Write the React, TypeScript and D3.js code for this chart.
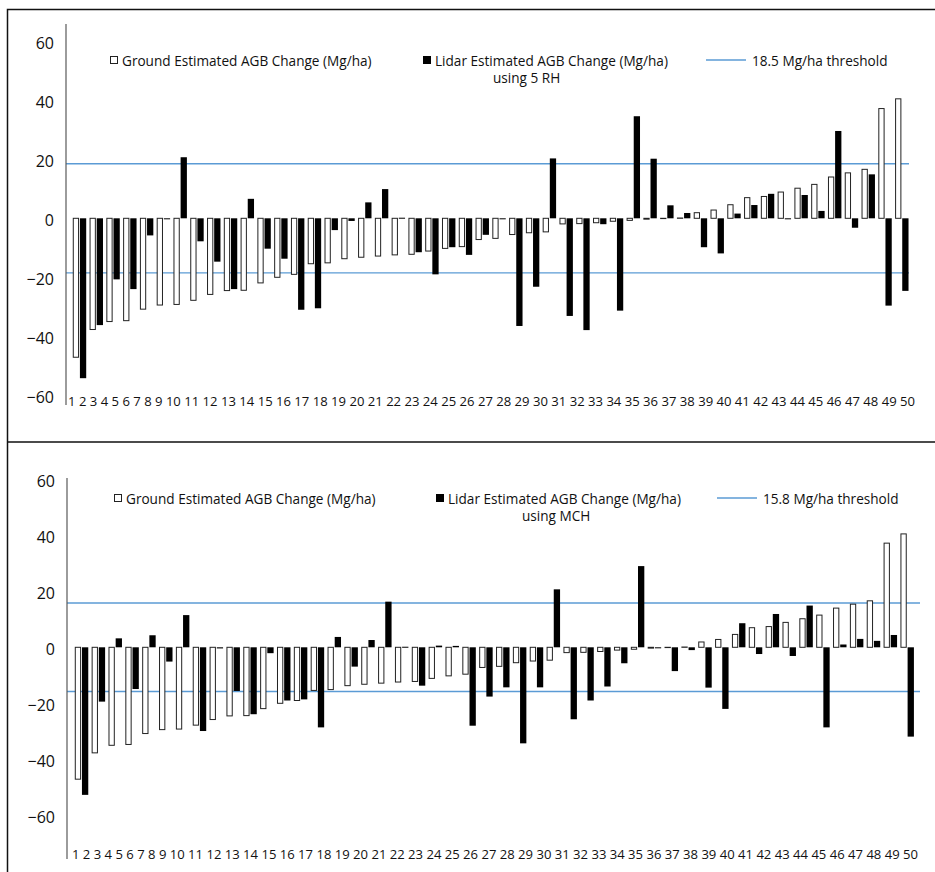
import * as d3 from 'd3';
import {useEffect, useRef} from 'react';

// plot numbers 1..50
const categories = [
  1, 2, 3, 4, 5, 6, 7, 8, 9, 10, 11, 12, 13, 14, 15, 16, 17, 18, 19, 20, 21, 22, 23, 24, 25,
  26, 27, 28, 29, 30, 31, 32, 33, 34, 35, 36, 37, 38, 39, 40, 41, 42, 43, 44, 45, 46, 47, 48, 49, 50
];

const groundChange = [
  -47.1, -37.7, -35.0, -34.7, -30.8, -29.4, -29.2, -27.8, -25.8, -24.5,
  -24.4, -21.9, -20.0, -19.0, -15.4, -15.1, -13.7, -13.2, -12.8, -12.4,
  -12.2, -11.1, -10.2, -9.6, -7.2, -6.8, -5.5, -4.9, -4.6, -1.9,
  -1.8, -1.5, -1.0, -0.7, -0.3, -0.1, 0.1, 1.9, 2.8, 4.6,
  7.0, 7.4, 8.9, 10.2, 11.5, 14.0, 15.4, 16.6, 37.2, 40.5
];

const lidar5RH = [
  -54.2, -36.2, -20.7, -24.0, -5.8, -0.3, 20.7, -7.8, -14.7, -24.0,
  6.6, -10.3, -13.7, -31.0, -30.5, -4.0, -0.9, 5.4, 9.9, 0.2,
  -11.5, -19.0, -9.8, -12.4, -5.6, -0.2, -36.5, -23.2, 20.3, -33.1,
  -37.9, -2.0, -31.3, 34.6, 20.2, 4.4, 1.8, -9.8, -11.9, 1.6,
  4.5, 8.3, -0.2, 7.9, 2.5, 29.6, -3.2, 14.9, -29.6, -24.6
];

const lidarMCH = [
  -52.7, -19.4, 3.2, -14.9, 4.3, -5.1, 11.5, -29.9, -0.4, -15.6,
  -23.9, -2.1, -19.0, -18.6, -28.6, 3.7, -6.9, 2.6, 16.3, 0.2,
  -13.7, 0.6, 0.5, -28.0, -17.6, -14.3, -34.3, -14.3, 20.7, -25.7,
  -19.0, -14.0, -5.7, 29.0, -0.3, -8.5, -1.0, -14.4, -22.0, 8.6,
  -2.4, 11.9, -3.1, 14.9, -28.6, 1.0, 3.0, 2.3, 4.4, -31.9
];

const yTicks = [-60, -40, -20, 0, 20, 40, 60];
const thresholds = [18.5, 15.8];
const subLabels = ['using 5 RH', 'using MCH'];

const FONT = '"Open Sans", Lato, sans-serif';
const BLUE = '#5b9bd5';

function drawPanel(svg, lidar, threshold, subLabel, L) {
  const g = svg.append('g');

  const x = d3.scaleBand()
    .domain(categories.map(String))
    .range(L.xRange)
    .paddingInner(0.2)
    .paddingOuter(0.1);

  const x1 = d3.scaleBand()
    .domain(['ground', 'lidar'])
    .range([0, x.bandwidth()])
    .paddingInner(0.12);

  const y = d3.scaleLinear().domain([-60, 60]).range(L.yRange);

  // threshold lines
  g.selectAll('.thr')
    .data([threshold, -threshold])
    .enter().append('line')
    .attr('x1', L.thrX[0]).attr('x2', L.thrX[1])
    .attr('y1', d => y(d)).attr('y2', d => y(d))
    .attr('stroke', BLUE).attr('stroke-width', 1.4);

  const rows = categories.map((c, i) => ({c: String(c), ground: groundChange[i], lidar: lidar[i]}));

  // hollow ground bars
  g.selectAll('.gbar')
    .data(rows)
    .enter().append('rect')
    .attr('x', d => x(d.c) + x1('ground') + 0.5)
    .attr('y', d => Math.min(y(0), y(d.ground)))
    .attr('width', x1.bandwidth() - 1)
    .attr('height', d => Math.abs(y(d.ground) - y(0)))
    .attr('fill', '#fff')
    .attr('stroke', '#222')
    .attr('stroke-width', 1);

  // black lidar bars
  g.selectAll('.lbar')
    .data(rows)
    .enter().append('rect')
    .attr('x', d => x(d.c) + x1('lidar'))
    .attr('y', d => Math.min(y(0), y(d.lidar)))
    .attr('width', x1.bandwidth())
    .attr('height', d => Math.max(1, Math.abs(y(d.lidar) - y(0))))
    .attr('fill', '#000');

  // y axis
  g.append('line')
    .attr('x1', L.axisX).attr('x2', L.axisX)
    .attr('y1', L.axisY[0]).attr('y2', L.axisY[1])
    .attr('stroke', '#595959').attr('stroke-width', 1.2);

  const ax = g.append('g')
    .attr('transform', `translate(${L.tickRight},0)`)
    .call(d3.axisLeft(y).tickValues(yTicks).tickSize(0).tickPadding(0));
  ax.select('.domain').remove();
  ax.selectAll('text')
    .attr('font-family', FONT)
    .attr('font-size', 16)
    .attr('fill', '#111')
    .attr('dy', '0.42em');

  // category labels, one packed row like the original
  g.append('text')
    .attr('x', L.xLabel[0])
    .attr('y', L.xLabel[1])
    .attr('textLength', L.xLabel[2])
    .attr('lengthAdjust', 'spacingAndGlyphs')
    .attr('font-family', FONT)
    .attr('font-size', 13.5)
    .attr('fill', '#111')
    .text(categories.join(' '));

  // legend
  const lg = L.legend;
  g.append('rect')
    .attr('x', lg.gx + 0.5).attr('y', lg.sy + 0.5)
    .attr('width', 7).attr('height', 7)
    .attr('fill', '#fff').attr('stroke', '#222');
  g.append('rect')
    .attr('x', lg.lx).attr('y', lg.sy)
    .attr('width', 8).attr('height', 8)
    .attr('fill', '#000');

  const txt = (tx, ty, s) => g.append('text')
    .attr('x', tx).attr('y', ty)
    .attr('font-family', FONT)
    .attr('font-size', 13.6)
    .attr('fill', '#111')
    .text(s);

  txt(lg.gx + 12, lg.base, 'Ground Estimated AGB Change (Mg/ha)');
  txt(lg.lx + 12, lg.base, 'Lidar Estimated AGB Change (Mg/ha)');
  txt(lg.subX, lg.base + 17, subLabel);

  g.append('line')
    .attr('x1', lg.tx).attr('x2', lg.tx + 40)
    .attr('y1', lg.sy + 4).attr('y2', lg.sy + 4)
    .attr('stroke', BLUE).attr('stroke-width', 1.4);
  txt(lg.tx + 46, lg.base, `${threshold} Mg/ha threshold`);
}

const layouts = [
  {
    xRange: [71.1, 910.2],
    yRange: [395.3, 41.3],
    thrX: [66, 909],
    axisX: 66,
    axisY: [24, 405],
    tickRight: 54,
    xLabel: [68, 406, 847],
    legend: {gx: 110, lx: 423, sy: 56, base: 66, subX: 493, tx: 706}
  },
  {
    xRange: [73.1, 915.6],
    yRange: [815.3, 479.3],
    thrX: [67, 920],
    axisX: 67,
    axisY: [478, 859],
    tickRight: 55,
    xLabel: [72, 859, 846],
    legend: {gx: 114, lx: 436, sy: 494, base: 504, subX: 522, tx: 717}
  }
];

export default function App() {
  const svgRef = useRef(null);

  useEffect(() => {
    const svg = d3.select(svgRef.current);
    svg.selectAll('*').remove();

    // frame lines
    svg.append('path')
      .attr('d', 'M7.5,872 V9.5 H935 M7.5,442 H935')
      .attr('fill', 'none')
      .attr('stroke', '#111')
      .attr('stroke-width', 1.5);

    drawPanel(svg, lidar5RH, thresholds[0], subLabels[0], layouts[0]);
    drawPanel(svg, lidarMCH, thresholds[1], subLabels[1], layouts[1]);
  }, []);

  return (
    <svg ref={svgRef} width={935} height={872}
      style={{position: 'absolute', left: 0, top: 0, background: '#fff'}} />
  );
}
